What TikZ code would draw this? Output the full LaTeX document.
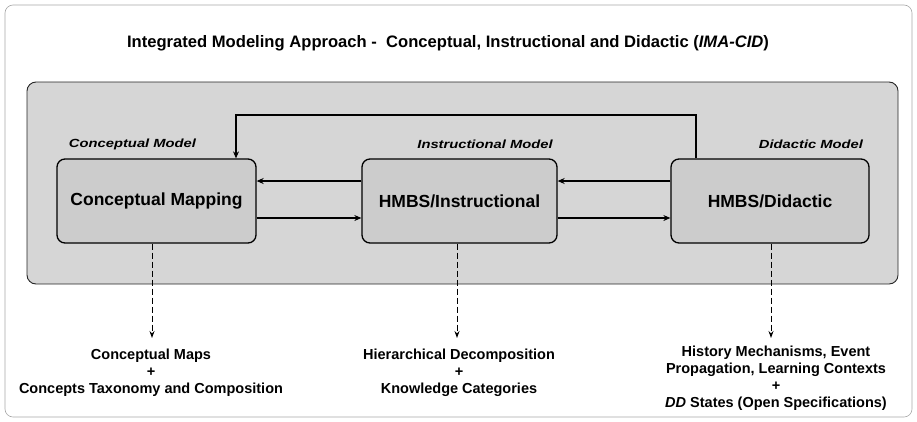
\documentclass[tikz,border=0pt]{standalone}
\usepackage{fontspec}
\setmainfont{Liberation Sans}
\newfontfamily\widefont[FakeStretch=1.25]{Liberation Sans}
\usetikzlibrary{arrows.meta}
\definecolor{bgfill}{gray}{0.84}
\definecolor{boxfill}{gray}{0.80}
\tikzset{
  frame/.style={draw=gray!70, line width=0.6pt, rounded corners=8pt},
  panel/.style={draw=black!85, line width=0.9pt, fill=bgfill, rounded corners=9pt},
  modelbox/.style={draw=black, line width=1.3pt, fill=boxfill, rounded corners=8pt,
    minimum height=84pt, inner sep=0pt, font=\fontsize{17.5}{20}\selectfont\bfseries},
  modellabel/.style={font=\widefont\fontsize{11.8}{13}\selectfont\bfseries\itshape, inner sep=0pt},
  arr/.style={draw=black, line width=1.1pt, -{Stealth[length=7pt,width=6pt]}},
  dasharr/.style={draw=black, line width=0.9pt, dash pattern=on 6pt off 3pt, -{Stealth[length=7pt,width=5pt]}},
  outtext/.style={align=center, font=\fontsize{14.5}{17}\selectfont\bfseries, inner sep=0pt},
  titletext/.style={font=\fontsize{16.6}{19}\selectfont\bfseries, inner sep=0pt}
}
\begin{document}
\begin{tikzpicture}[x=1pt,y=-1pt]
\useasboundingbox (0,0) rectangle (917,421);
\draw[frame] (5,5) rectangle (912,417);
\node[titletext] (title) at (448,43) {Integrated Modeling Approach -\ \ Conceptual, Instructional and Didactic (\textit{IMA-CID})};
\draw[panel] (27,82) rectangle (898,284);

\node[modelbox, minimum width=199pt] (cm) at (156.5,201) {Conceptual Mapping};
\node[modelbox, minimum width=195pt] (im) at (459.5,201) {HMBS/Instructional};
\node[modelbox, minimum width=198pt] (dm) at (770,201) {HMBS/Didactic};

\node[modellabel] (cml) at (132.5,144) {Conceptual Model};
\node[modellabel] (iml) at (485,144) {Instructional Model};
\node[modellabel] (dml) at (811,144) {Didactic Model};

\coordinate (yup) at (0,181);
\coordinate (ydn) at (0,218);
\draw[arr] (im.west |- yup) -- (cm.east |- yup);
\draw[arr] (cm.east |- ydn) -- (im.west |- ydn);
\draw[arr] (dm.west |- yup) -- (im.east |- yup);
\draw[arr] (im.east |- ydn) -- (dm.west |- ydn);

\coordinate (fbR) at (696,115);
\coordinate (fbL) at (236,115);
\draw[arr] (dm.north -| fbR) -- (fbR) -- (fbL) -- (cm.north -| fbL);

\coordinate (t1) at (152,338);
\coordinate (t2) at (457,338);
\coordinate (t3) at (771,338);
\draw[dasharr] (cm.south -| t1) -- (t1);
\draw[dasharr] (im.south -| t2) -- (t2);
\draw[dasharr] (dm.south -| t3) -- (t3);

\node[outtext] (o1) at (151,373) {Conceptual Maps\\+\\Concepts Taxonomy and Composition};
\node[outtext] (o2) at (459,373) {Hierarchical Decomposition\\+\\Knowledge Categories};
\node[outtext] (o3) at (776,378) {History Mechanisms, Event\\Propagation, Learning Contexts\\+\\\textit{DD} States (Open Specifications)};
\end{tikzpicture}
\end{document}
